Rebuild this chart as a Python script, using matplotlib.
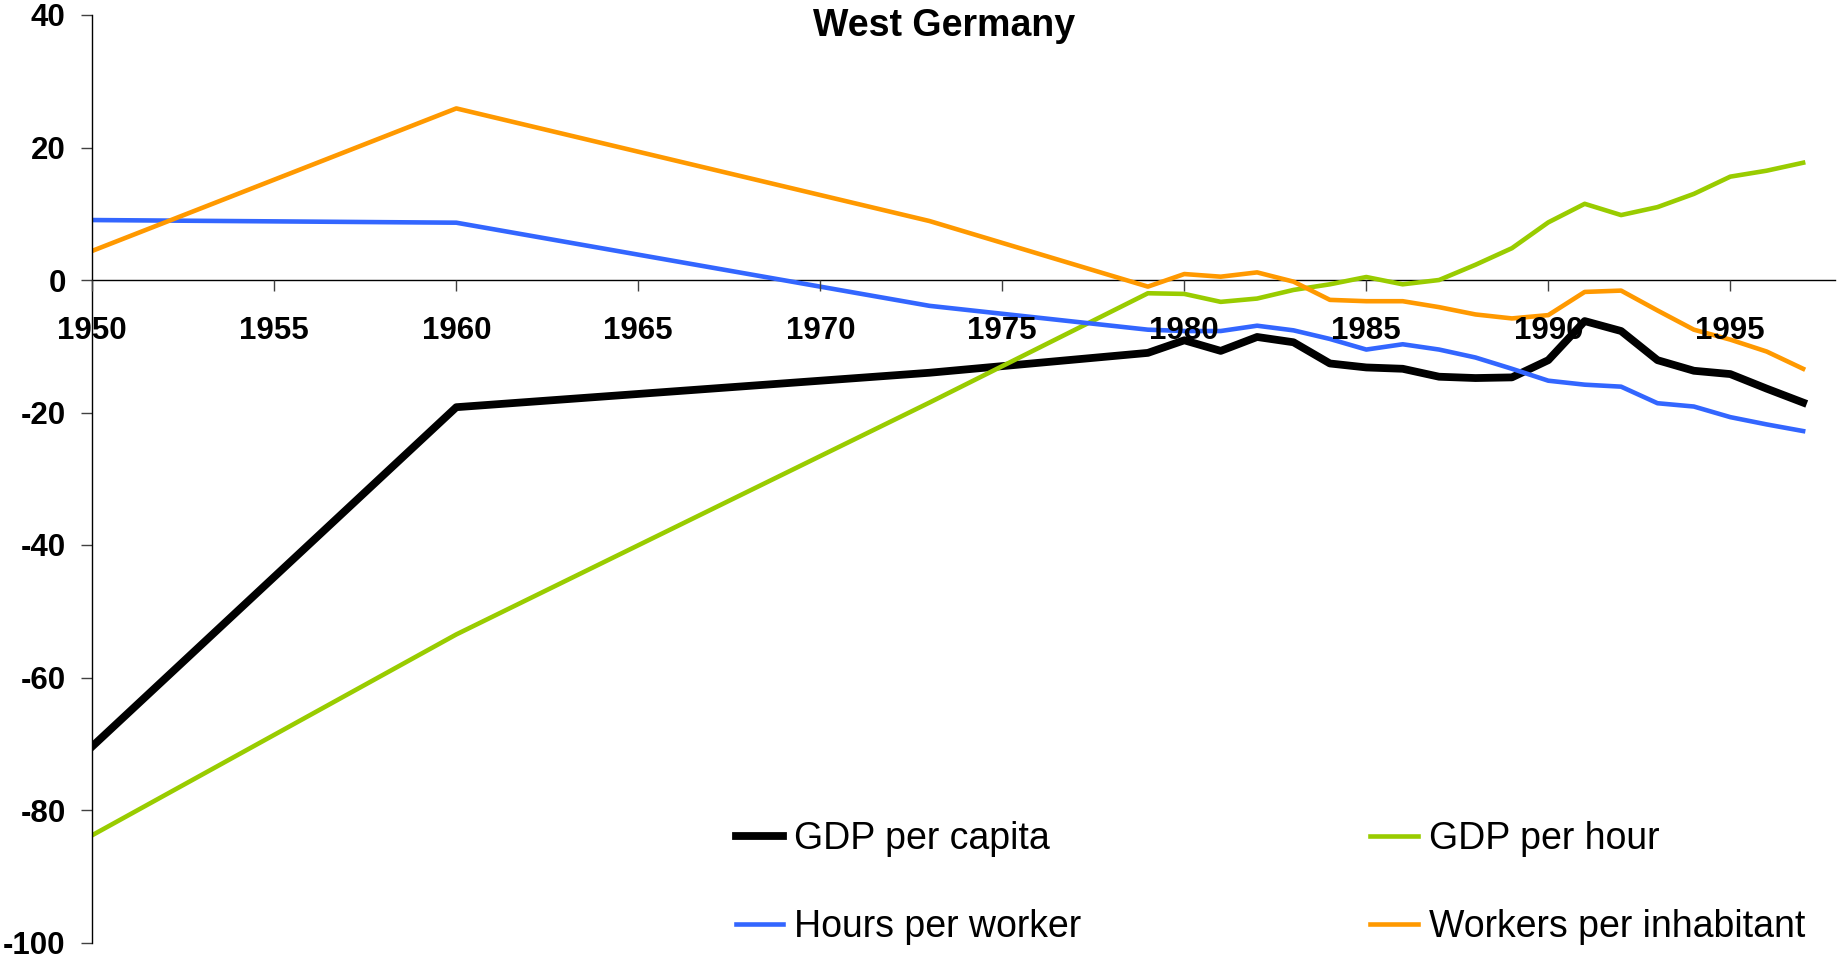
import matplotlib
matplotlib.use("Agg")
import matplotlib.pyplot as plt

plt.rcParams["font.family"] = ["Liberation Sans", "DejaVu Sans"]
plt.rcParams["axes.unicode_minus"] = False

# data
years = [1950, 1960, 1973, 1979, 1980, 1981, 1982, 1983, 1984, 1985, 1986, 1987,
         1988, 1989, 1990, 1991, 1992, 1993, 1994, 1995, 1996, 1997]
gdp_per_capita = [-70.4, -19.2, -14.0, -11.0, -9.1, -10.7, -8.6, -9.4, -12.6, -13.2, -13.4, -14.6,
                  -14.8, -14.7, -12.1, -6.2, -7.7, -12.1, -13.7, -14.2, -16.4, -18.5]
gdp_per_hour = [-83.8, -53.5, -18.5, -2.0, -2.1, -3.3, -2.8, -1.5, -0.65, 0.45, -0.65, 0.0,
                2.3, 4.8, 8.7, 11.5, 9.8, 11.0, 13.0, 15.6, 16.5, 17.7]
hours_per_worker = [9.05, 8.65, -3.9, -7.5, -7.7, -7.7, -6.9, -7.6, -8.9, -10.5, -9.7, -10.5,
                    -11.7, -13.4, -15.2, -15.8, -16.1, -18.6, -19.1, -20.7, -21.8, -22.8]
workers_per_inhabitant = [4.4, 25.9, 8.9, -1.0, 0.9, 0.5, 1.15, -0.25, -3.0, -3.2, -3.2, -4.1,
                          -5.2, -5.8, -5.3, -1.8, -1.6, -4.6, -7.5, -9.0, -10.8, -13.4]

W, H = 1839, 964
fig = plt.figure(figsize=(W / 100, H / 100), dpi=100)
ax = fig.add_axes([92.3 / W, 1 - 942.5 / H, (1835 - 92.3) / W, (942.5 - 15) / H])

l1, = ax.plot(years, gdp_per_capita, color="#000000", lw=5.6, label="GDP per capita", zorder=2)
l2, = ax.plot(years, gdp_per_hour, color="#99CC00", lw=3.3, label="GDP per hour", zorder=2)
l3, = ax.plot(years, hours_per_worker, color="#3366FF", lw=3.3, label="Hours per worker", zorder=2)
l4, = ax.plot(years, workers_per_inhabitant, color="#FF9900", lw=3.3, label="Workers per inhabitant", zorder=2)

ax.set_xlim(1950, 1950 + (1835 - 92.3) / 36.4)
ax.set_ylim(-100, 40)
ax.set_xticks(range(1950, 1996, 5))
ax.set_yticks(range(-100, 41, 20))

ax.spines["top"].set_visible(False)
ax.spines["right"].set_visible(False)
ax.spines["bottom"].set_position(("data", 0))
ax.spines["bottom"].set_linewidth(1.0)
ax.spines["left"].set_linewidth(1.0)
ax.spines["bottom"].set_zorder(1)

ax.tick_params(axis="x", direction="out", length=7.7, width=1, color="#404040", pad=18.5,
               labelsize=22.5)
ax.tick_params(axis="y", direction="out", length=7.7, width=1, color="#404040", pad=11.5,
               labelsize=22.5)
for lab in ax.get_xticklabels() + ax.get_yticklabels():
    lab.set_fontweight("bold")
ax.xaxis.set_zorder(5)

fig.text(944 / W, 1 - 25.5 / H, "West Germany", ha="center", va="center",
         fontsize=27, fontweight="bold")

# legend fills column by column, so order gives rows: capita/hour, worker/inhabitant
leg = ax.legend([l1, l3, l2, l4],
                ["GDP per capita", "Hours per worker", "GDP per hour", "Workers per inhabitant"],
                ncol=2, loc="upper left", bbox_to_anchor=(736 / W, 1 - 821 / H),
                bbox_transform=fig.transFigure, frameon=False, fontsize=27,
                handlelength=1.26, handletextpad=0.3, columnspacing=7.7,
                labelspacing=1.38, borderpad=0, borderaxespad=0)

fig.savefig("out.png", dpi=100, facecolor="white")
